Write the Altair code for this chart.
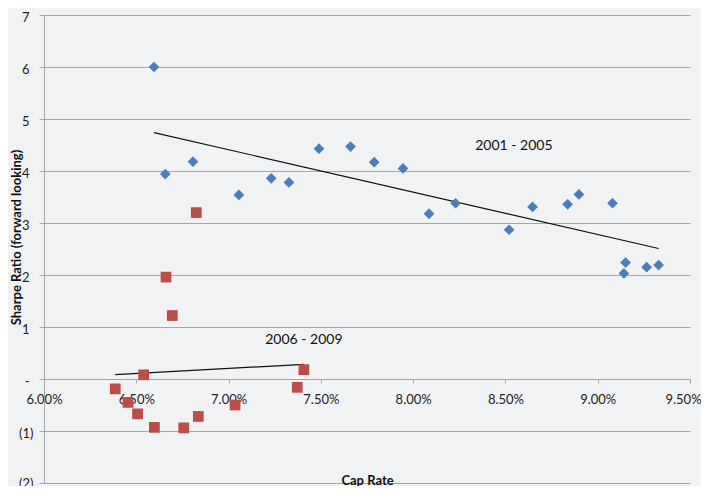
import altair as alt
import pandas as pd

# 2001 - 2005 (blue diamonds)
cap_a = [6.596, 6.657, 6.807, 7.056, 7.231, 7.327, 7.490, 7.661, 7.789, 7.945,
         8.086, 8.230, 8.520, 8.647, 8.837, 8.898, 9.080, 9.151, 9.142, 9.265, 9.330]
sharpe_a = [6.00, 3.94, 4.18, 3.54, 3.86, 3.78, 4.43, 4.47, 4.17, 4.05,
            3.18, 3.38, 2.87, 3.31, 3.36, 3.55, 3.38, 2.24, 2.03, 2.15, 2.19]

# 2006 - 2009 (red squares)
cap_b = [6.661, 6.695, 6.540, 6.386, 6.455, 6.507, 6.598, 6.757, 6.836, 7.035,
         7.408, 7.372, 6.825]
sharpe_b = [1.96, 1.22, 0.08, -0.19, -0.45, -0.67, -0.93, -0.94, -0.72, -0.50,
            0.18, -0.16, 3.20]

labels = ["2001 - 2005", "2006 - 2009"]
label_x = [8.546, 7.408]
label_y = [4.48, 0.75]

x_ticks = [6.0, 6.5, 7.0, 7.5, 8.0, 8.5, 9.0, 9.5]
y_ticks = [-2, -1, 0, 1, 2, 3, 4, 5, 6, 7]

df = pd.DataFrame(
    {"cap": cap_a + cap_b,
     "sharpe": sharpe_a + sharpe_b,
     "period": [labels[0]] * len(cap_a) + [labels[1]] * len(cap_b)}
)
lab = pd.DataFrame({"cap": label_x, "sharpe": label_y, "text": labels})

FONT = "Lato"
xscale = alt.Scale(domain=[6.0, 9.5], nice=False, zero=False)
yscale = alt.Scale(domain=[-2, 7], nice=False, zero=False)

xenc = alt.X(
    "cap:Q", scale=xscale,
    axis=alt.Axis(
        values=x_ticks, title="Cap Rate", offset=-104,
        labelExpr="format(datum.value, '.2f') + '%'",
        labelFlush=False, labelOverlap=False,
        labelOffset={"condition": {"test": "datum.value > 9.4", "value": -7}, "value": 0},
        grid=False, domainColor="#a6a6a6", tickColor="#a6a6a6", tickSize=4,
        labelFont=FONT, labelFontSize=13, labelColor="#222222", labelPadding=10,
        titleFont=FONT, titleFontSize=13, titleFontWeight="bold", titleColor="#111111",
        titleY=105, titleBaseline="alphabetic",
    ),
)
yenc = alt.Y(
    "sharpe:Q", scale=yscale,
    axis=alt.Axis(
        values=y_ticks, title="Sharpe Ratio (forward looking)",
        labelExpr="datum.value == 0 ? '-' : (datum.value < 0 ? '(' + abs(datum.value) + ')' : datum.value + '')",
        grid=True, gridColor="#a6a6a6", gridWidth=1.2,
        domainColor="#a6a6a6", tickColor="#a6a6a6", tickSize=5,
        labelFont=FONT, labelFontSize=13, labelColor="#222222",
        labelPadding={"condition": {"test": "datum.value < 0", "value": 6}, "value": 10},
        labelOffset={"condition": {"test": "datum.value < -1.5", "value": 0}, "value": 2},
        labelOverlap=False,
        titleFont=FONT, titleFontSize=13, titleFontWeight="bold", titleColor="#111111",
        titleX=-28, titleY=222, titleBaseline="middle", titleAlign="center", titleAngle=270,
    ),
)

color = alt.Color(
    "period:N",
    scale=alt.Scale(domain=labels, range=["#4a7ebb", "#be4b48"]),
    legend=None,
)
shape = alt.Shape(
    "period:N",
    scale=alt.Scale(domain=labels, range=["diamond", "square"]),
    legend=None,
)

points = alt.Chart(df).mark_point(filled=True, size=115, opacity=1).encode(
    x=xenc, y=yenc, color=color, shape=shape
)

trend = alt.Chart(df).transform_regression(
    "cap", "sharpe", groupby=["period"]
).mark_line(color="#111111", strokeWidth=1.2).encode(
    x=alt.X("cap:Q", scale=xscale),
    y=alt.Y("sharpe:Q", scale=yscale),
    detail="period:N",
)

text = alt.Chart(lab).mark_text(font=FONT, fontSize=14, color="#111111").encode(
    x=alt.X("cap:Q", scale=xscale),
    y=alt.Y("sharpe:Q", scale=yscale),
    text="text:N",
)

chart = alt.layer(trend, points, text).properties(
    width=646, height=468,
    background="#f1f2f4",
    autosize=alt.AutoSizeParams(type="none"),
    padding={"left": 36, "top": 7, "right": 11, "bottom": 3},
).configure_view(stroke=None)

chart.save("out.html", embed_options={"renderer": "svg", "actions": False})
